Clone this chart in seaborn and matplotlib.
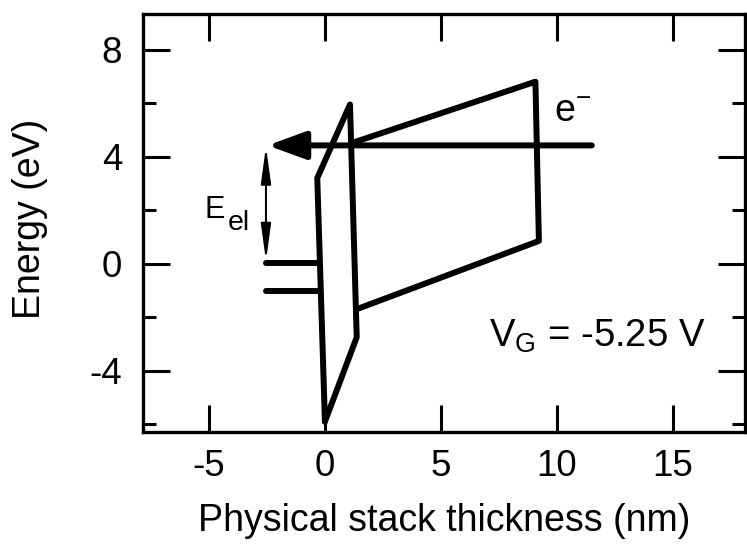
import numpy as np
import pandas as pd
import matplotlib
matplotlib.use("Agg")
import matplotlib.pyplot as plt
import seaborn as sns

# band diagram data (nm, eV)
il_x = [0.0, -0.33, 1.08, 1.37, 0.0]      # interfacial layer outline
il_y = [-5.9, 3.2, 5.95, -2.75, -5.9]
hk_x = [1.30, 9.07, 9.22, 1.37]           # high-k layer outline
hk_y = [4.55, 6.8, 0.85, -1.7]
gate_x = [-2.54, -0.31]                   # gate levels
gate_top = [0.03, 0.03]
gate_bot = [-1.03, -1.03]
inj_x = [11.5, -2.47]                     # injected electron
inj_y = [4.42, 4.42]
eel_x = [-2.54, -2.54]                    # E_el span
eel_y = [4.38, 0.1]

xticks = [-5, 0, 5, 10, 15]
yticks = [-4, 0, 4, 8]
yminor = [-6, -2, 2, 6]

sns.set_theme(style="ticks")
plt.rcParams["font.family"] = ["Liberation Sans", "DejaVu Sans"]
plt.rcParams["mathtext.fontset"] = "custom"
plt.rcParams["mathtext.rm"] = "Liberation Sans"
plt.rcParams["mathtext.it"] = "Liberation Sans"
plt.rcParams["axes.unicode_minus"] = False

fig = plt.figure(figsize=(7.47, 5.45), dpi=100)
ax = fig.add_axes([0.1914, 0.2073, 0.8059, 0.767])

lw = 4.3
kw = dict(color="black", lw=lw, sort=False, estimator=None, ax=ax,
          solid_capstyle="round", solid_joinstyle="round")
sns.lineplot(x=il_x, y=il_y, **kw)
sns.lineplot(x=hk_x, y=hk_y, **kw)
sns.lineplot(x=gate_x, y=gate_top, **kw)
sns.lineplot(x=gate_x, y=gate_bot, **kw)

# electron arrow
ax.annotate("", xy=(inj_x[1], inj_y[1]), xytext=(inj_x[0], inj_y[0]),
            arrowprops=dict(arrowstyle="-|>,head_length=1.15,head_width=0.42",
                            mutation_scale=20, lw=lw, color="black",
                            shrinkA=0, shrinkB=0, capstyle="round"))
# E_el double arrow
ax.annotate("", xy=(eel_x[1], eel_y[1]), xytext=(eel_x[0], eel_y[0]),
            arrowprops=dict(arrowstyle="<|-|>,head_length=2.2,head_width=0.3",
                            mutation_scale=10, lw=1.5, color="black",
                            shrinkA=0, shrinkB=0))

ax.text(-5.2, 1.72, "E", fontsize=22, color="black", va="baseline", ha="left")
ax.annotate("el", xy=(-5.2, 1.72), xytext=(17, -9), textcoords="offset points",
            fontsize=20.5, color="black", va="baseline", ha="left")
ax.text(9.87, 5.30, "e$^\\mathrm{-}$", fontsize=27, color="black", va="baseline", ha="left")
ax.text(7.05, -3.09, "V$_\\mathrm{G}$ = -5.25 V", fontsize=27.5, color="black",
        va="baseline", ha="left")

ax.set_xlim(-7.84, 18.1)
ax.set_ylim(-6.29, 9.33)
ax.set_xticks(xticks)
ax.set_yticks(yticks)
ax.set_yticks(yminor, minor=True)
ax.set_xticklabels([str(t) for t in xticks])
ax.set_yticklabels([str(t) for t in yticks])

for s in ax.spines.values():
    s.set_visible(True)
    s.set_linewidth(2.4)
    s.set_color("black")
ax.tick_params(which="both", direction="in", top=True, right=True, color="black",
               width=2.2, labelsize=26.5, labelcolor="black")
ax.tick_params(which="major", length=19.5)
ax.tick_params(which="minor", length=9.5)
ax.tick_params(axis="x", pad=12)
ax.tick_params(axis="y", pad=15)

ax.set_xlabel("Physical stack thickness (nm)", fontsize=27, color="black")
ax.set_ylabel("Energy (eV)", fontsize=27, color="black")
ax.xaxis.set_label_coords(0.5, -0.17)
ax.yaxis.set_label_coords(-0.158, 0.51)
ax.grid(False)

fig.savefig("out.png", dpi=100, facecolor="white")
